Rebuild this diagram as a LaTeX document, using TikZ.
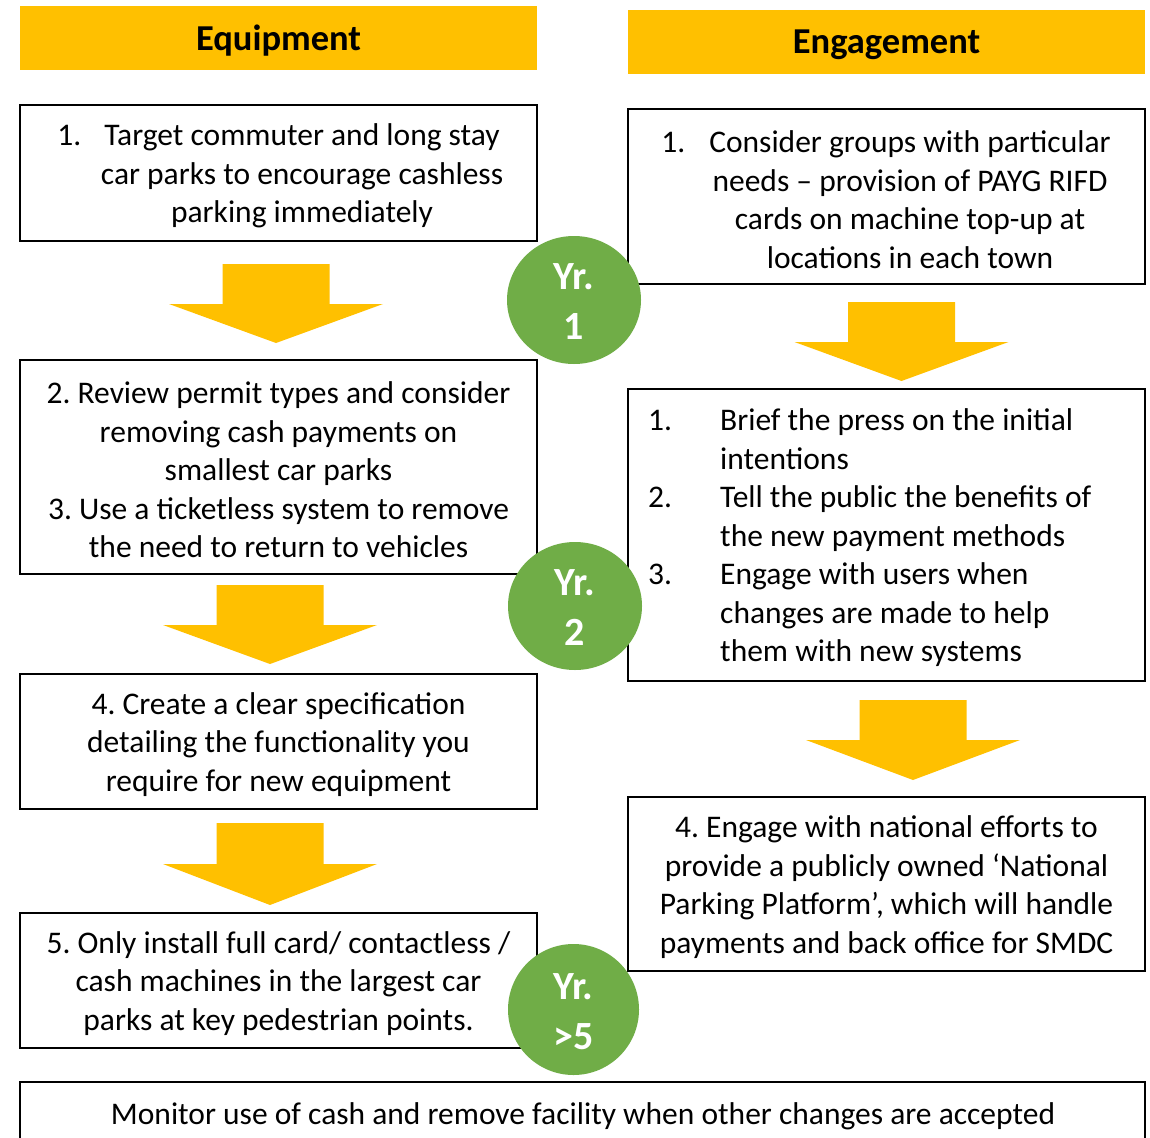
\documentclass[tikz,border=0pt]{standalone}
\usepackage{fontspec}
\setmainfont{Carlito}
\usetikzlibrary{shapes.geometric}
\definecolor{gold}{HTML}{FFC000}
\definecolor{leaf}{HTML}{70AD47}
\frenchspacing
\tikzset{
  box/.style={draw=black, line width=2.2pt, fill=white, inner sep=0pt},
  hdr/.style={fill=gold, inner sep=0pt, minimum width=517, minimum height=64},
  hdrtxt/.style={inner sep=0pt, font=\fontsize{36.5}{42}\selectfont\bfseries},
  body/.style={font=\fontsize{31.5}{38.5}\selectfont\frenchspacing, align=center, inner sep=0pt, yshift=-3pt},
  yr/.style={ellipse, fill=leaf, inner sep=0pt},
  yrtxt/.style={inner sep=0pt, text=white,
    font=\fontsize{40}{50}\selectfont\bfseries, align=center},
  blk/.style={fill=gold}
}
\newcommand{\blockarrow}[4]{%
  \fill[blk] (#1-53.5,#2) -- (#1+53.5,#2) -- (#1+53.5,#3) -- (#1+107,#3)
    -- (#1,#4) -- (#1-107,#3) -- (#1-53.5,#3) -- cycle;}
\begin{document}
\begin{tikzpicture}[x=1pt,y=-1pt]
\clip (0,0) rectangle (1150,1137);
\fill[white] (0,0) rectangle (1150,1137);
% headers
\node[hdr] (h1) at (278.5,38) {};
\node[hdrtxt] (h1t) at (278.5,41) {Equipment};
\node[hdr] (h2) at (886.5,42) {};
\node[hdrtxt] (h2t) at (886.5,45) {Engagement};
% boxes left
\node[box, minimum width=517, minimum height=136] (e1) at (278.5,173) {};
\node[body] (e1t) at (302,173) {\llap{\makebox[47pt][l]{1.}}Target commuter and long stay\\car parks to encourage cashless\\parking immediately};
\node[box, minimum width=517, minimum height=214] (e2) at (278.5,467) {};
\node[body] (e2t) at (278.5,467) {2. Review permit types and consider\\removing cash payments on\\smallest car parks\\3. Use a ticketless system to remove\\the need to return to vehicles};
\node[box, minimum width=517, minimum height=135] (e3) at (278.5,741.5) {};
\node[body] (e3t) at (278.5,741.5) {4. Create a clear specification\\detailing the functionality you\\require for new equipment};
\node[box, minimum width=517, minimum height=135] (e4) at (278.5,980.5) {};
\node[body] (e4t) at (278.5,980.5) {5. Only install full card/ contactless /\\cash machines in the largest car\\parks at key pedestrian points.};
% boxes right
\node[box, minimum width=517, minimum height=175] (g1) at (886.5,196.5) {};
\node[body] (g1t) at (910,196.5) {\llap{\makebox[48pt][l]{1.}}Consider groups with particular\\needs – provision of PAYG RIFD\\cards on machine top-up at\\locations in each town};
\node[box, minimum width=517, minimum height=292] (g2) at (886.5,535) {};
\node[body, align=left, anchor=west] (g2t) at (648,535) {\makebox[72pt][l]{1.}Brief the press on the initial\\\hspace*{72pt}intentions\\\makebox[72pt][l]{2.}Tell the public the benefits of\\\hspace*{72pt}the new payment methods\\\makebox[72pt][l]{3.}Engage with users when\\\hspace*{72pt}changes are made to help\\\hspace*{72pt}them with new systems};
\node[box, minimum width=517, minimum height=174] (g3) at (886.5,884) {};
\node[body] (g3t) at (886.5,884) {4. Engage with national efforts to\\provide a publicly owned ‘National\\Parking Platform’, which will handle\\payments and back office for SMDC};
% bottom
\node[box, minimum width=1125, minimum height=100] (m) at (582.5,1132) {};
\node[body] (mt) at (583,1113) {Monitor use of cash and remove facility when other changes are accepted};
% arrows
\blockarrow{276}{264}{304}{343}
\blockarrow{901.5}{302}{342}{381}
\blockarrow{270}{585}{625}{664}
\blockarrow{913}{700}{740}{780}
\blockarrow{270}{823}{864}{905}
% year markers
\node[yr, minimum width=134, minimum height=128] (y1) at (574,300) {};
\node[yrtxt] (y1t) at (574,302) {Yr.\\1};
\node[yr, minimum width=134, minimum height=128] (y2) at (575,606) {};
\node[yrtxt] (y2t) at (575,608) {Yr.\\2};
\node[yr, minimum width=131, minimum height=131] (y5) at (573.5,1009.5) {};
\node[yrtxt] (y5t) at (573.5,1012) {Yr.\\>5};
\end{tikzpicture}
\end{document}
